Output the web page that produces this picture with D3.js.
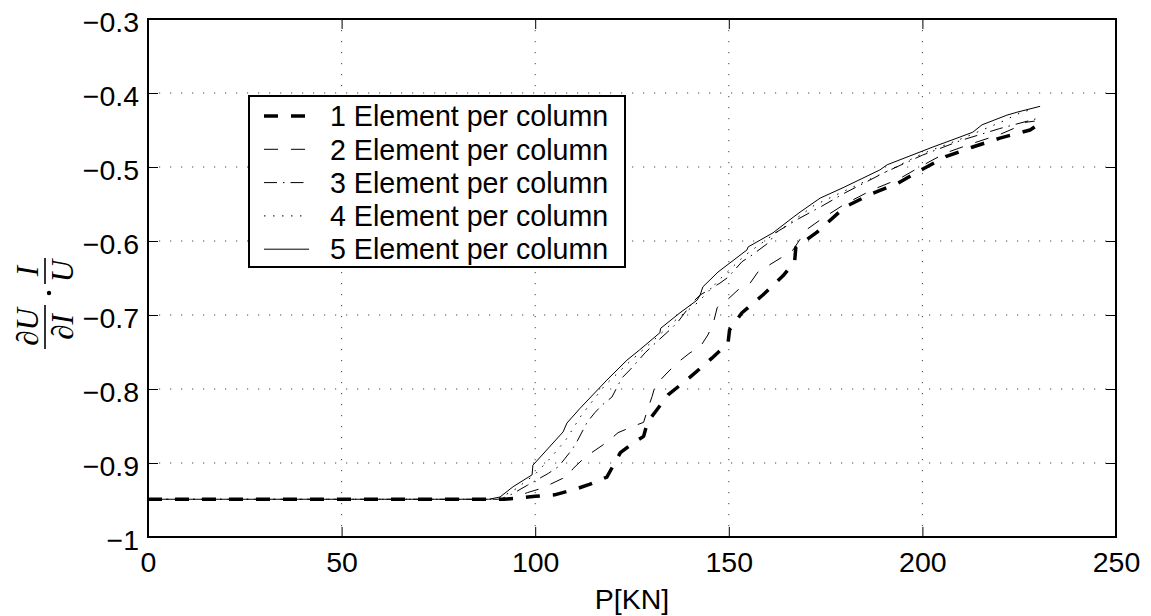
<!DOCTYPE html>
<html>
<head>
<meta charset="utf-8">
<script src="https://cdn.jsdelivr.net/npm/d3@7"></script>
<style>
  html, body { margin: 0; padding: 0; background: #fff; }
  svg { display: block; }
  text { font-family: "Liberation Sans", Arial, Helvetica, sans-serif; fill: #000; }
  .math { font-family: "Liberation Serif", "DejaVu Serif", serif; font-style: italic; }
</style>
</head>
<body>
<svg id="chart" width="1151" height="616"></svg>
<script>
// Axis ticks
const xTicks = [0, 50, 100, 150, 200, 250];
const yTicks = [-1, -0.9, -0.8, -0.7, -0.6, -0.5, -0.4, -0.3];

// Series: [P in kN, dU/dI * I/U]
const series1 = [[0,-0.949],[92,-0.949],[96,-0.947],[100,-0.945],[105,-0.943],[110,-0.936],[114,-0.929],[118.5,-0.919],[120,-0.905],[122,-0.886],[125.3,-0.873],[128,-0.864],[129,-0.845],[131,-0.831],[134.3,-0.808],[140,-0.784],[145.7,-0.758],[149.8,-0.738],[150.2,-0.720],[153.4,-0.697],[158.8,-0.673],[164,-0.647],[167,-0.628],[167.3,-0.609],[172.8,-0.588],[180,-0.554],[187,-0.536],[193.7,-0.522],[200,-0.503],[206,-0.486],[213,-0.473],[220,-0.461],[227.8,-0.450],[229,-0.446]];
const series2 = [[0,-0.949],[92,-0.949],[95,-0.946],[98,-0.940],[101.8,-0.934],[104.6,-0.927],[107,-0.921],[108.5,-0.919],[109.7,-0.908],[112.9,-0.892],[118.5,-0.872],[121.4,-0.859],[125,-0.851],[128,-0.845],[129,-0.828],[130.2,-0.810],[131,-0.795],[134.3,-0.777],[136.6,-0.765],[140,-0.751],[142.6,-0.743],[144.6,-0.727],[146,-0.711],[147,-0.690],[149.5,-0.680],[152.4,-0.666],[155.5,-0.657],[157.5,-0.642],[160.6,-0.632],[163.7,-0.622],[166.6,-0.612],[170,-0.585],[174,-0.570],[180,-0.550],[187,-0.531],[194,-0.516],[200,-0.498],[206,-0.481],[213,-0.468],[220,-0.456],[224,-0.447],[226,-0.440],[229,-0.438]];
const series3 = [[0,-0.949],[91,-0.949],[94,-0.942],[98,-0.930],[103.4,-0.914],[106,-0.905],[109.5,-0.882],[111,-0.869],[113.4,-0.845],[115.4,-0.832],[117.2,-0.822],[119.8,-0.811],[122.4,-0.785],[124.5,-0.774],[128.4,-0.751],[130.4,-0.741],[134.8,-0.720],[136.9,-0.709],[140.8,-0.682],[142.6,-0.673],[147.7,-0.657],[149.8,-0.649],[153.4,-0.628],[156,-0.619],[160.6,-0.601],[162,-0.589],[168,-0.570],[174,-0.553],[180,-0.535],[190,-0.508],[200,-0.484],[210,-0.464],[220,-0.448],[230,-0.434]];
const series4 = [[0,-0.949],[90,-0.949],[92,-0.944],[95,-0.935],[100,-0.915],[104,-0.893],[108,-0.868],[112,-0.835],[118,-0.795],[124,-0.765],[130,-0.737],[136,-0.708],[142,-0.683],[148,-0.650],[154,-0.620],[160,-0.597],[166,-0.575],[172,-0.552],[180,-0.532],[190,-0.508],[200,-0.482],[210,-0.462],[220,-0.440],[226,-0.425],[228,-0.423]];
const series5 = [[0,-0.949],[88,-0.949],[90.9,-0.946],[94.3,-0.932],[99.2,-0.916],[99.4,-0.903],[107.2,-0.858],[108.2,-0.846],[111.6,-0.826],[118.5,-0.788],[123.7,-0.761],[127,-0.747],[132.2,-0.724],[132.4,-0.718],[137.4,-0.697],[141.8,-0.680],[142.6,-0.673],[143.3,-0.662],[147.2,-0.642],[154.7,-0.612],[155,-0.608],[161.4,-0.589],[166.6,-0.568],[168.4,-0.561],[173.6,-0.542],[179.5,-0.528],[189,-0.504],[190.9,-0.497],[202.7,-0.473],[207.9,-0.463],[213,-0.453],[215.4,-0.443],[221.8,-0.430],[224.4,-0.426],[230.4,-0.418]];

const seriesNames = ["1 Element per column", "2 Element per column", "3 Element per column", "4 Element per column", "5 Element per column"];

const seriesData = [series1, series2, series3, series4, series5];
const seriesStyle = [
  { width: 3.5, dash: "14,13" },
  { width: 1,   dash: "14,13" },
  { width: 1,   dash: "13,6,1.5,6" },
  { width: 1,   dash: "1.5,7.5" },
  { width: 1,   dash: null }
];

const svg = d3.select("#chart");
const plot = { left: 148, right: 1116, top: 19, bottom: 537 };

const x = d3.scaleLinear().domain([0, 250]).range([plot.left, plot.right]);
const y = d3.scaleLinear().domain([-1, -0.3]).range([plot.bottom, plot.top]);

const fmt = v => (v < 0 ? "\u2212" : "") + d3.format("")(Math.abs(+v.toFixed(2)));

// Dotted grid
const grid = svg.append("g");
grid.selectAll("line.gx").data(xTicks.filter(t => t > 0 && t < 250)).join("line")
  .attr("x1", d => x(d)).attr("x2", d => x(d))
  .attr("y1", plot.top).attr("y2", plot.bottom)
  .attr("stroke", "#444").attr("stroke-width", 1).attr("stroke-dasharray", "1.2,9.8");
grid.selectAll("line.gy").data(yTicks.filter(t => t > -1 && t < -0.3)).join("line")
  .attr("x1", plot.left).attr("x2", plot.right)
  .attr("y1", d => y(d)).attr("y2", d => y(d))
  .attr("stroke", "#444").attr("stroke-width", 1).attr("stroke-dasharray", "1.2,9.8");

// Axes with inward ticks on all four sides
const tickLen = 10;
const axB = svg.append("g").attr("transform", `translate(0,${plot.bottom})`)
  .call(d3.axisBottom(x).tickValues(xTicks).tickSizeInner(-tickLen).tickSizeOuter(0).tickPadding(15).tickFormat(d3.format("d")));
const axT = svg.append("g").attr("transform", `translate(0,${plot.top})`)
  .call(d3.axisTop(x).tickValues(xTicks).tickSizeInner(-tickLen).tickSizeOuter(0).tickFormat(""));
const axL = svg.append("g").attr("transform", `translate(${plot.left},0)`)
  .call(d3.axisLeft(y).tickValues(yTicks).tickSizeInner(-tickLen).tickSizeOuter(0).tickPadding(9).tickFormat(fmt));
const axR = svg.append("g").attr("transform", `translate(${plot.right},0)`)
  .call(d3.axisRight(y).tickValues(yTicks).tickSizeInner(-tickLen).tickSizeOuter(0).tickFormat(""));
[axB, axT, axL, axR].forEach(a => {
  a.select(".domain").remove();
  a.selectAll(".tick line").attr("stroke", "#000").attr("stroke-width", 1);
  a.selectAll("text").attr("font-size", 28.5).attr("fill", "#000")
    .style("font-family", '"Liberation Sans", Arial, Helvetica, sans-serif');
});
axB.selectAll("text").attr("dy", "0.71em");
axL.selectAll("text").attr("dy", "0.45em");

// Data lines
const line = d3.line().x(d => x(d[0])).y(d => y(d[1]));
seriesData.forEach((data, i) => {
  const st = seriesStyle[i];
  svg.append("path").datum(data)
    .attr("d", line)
    .attr("fill", "none")
    .attr("stroke", "#000")
    .attr("stroke-width", st.width)
    .attr("stroke-dasharray", st.dash)
    .attr("stroke-linejoin", "round");
});

// Plot frame
svg.append("rect")
  .attr("x", plot.left).attr("y", plot.top)
  .attr("width", plot.right - plot.left).attr("height", plot.bottom - plot.top)
  .attr("fill", "none").attr("stroke", "#000").attr("stroke-width", 2);

// Legend
const legend = svg.append("g");
legend.append("rect")
  .attr("x", 249).attr("y", 96).attr("width", 376).attr("height", 171)
  .attr("fill", "#fff").attr("stroke", "#000").attr("stroke-width", 2);
seriesNames.forEach((name, i) => {
  const ry = 116 + i * 33.3;
  const st = seriesStyle[i];
  legend.append("line")
    .attr("x1", 264).attr("x2", 309).attr("y1", ry).attr("y2", ry)
    .attr("stroke", "#000").attr("stroke-width", st.width)
    .attr("stroke-dasharray", st.dash);
  legend.append("text")
    .attr("x", 330).attr("y", ry).attr("dy", "0.36em")
    .attr("font-size", 28.6).text(name);
});

// X axis label
svg.append("text")
  .attr("x", x(125)).attr("y", 609)
  .attr("text-anchor", "middle").attr("font-size", 28.5).text("P[KN]");

// Y axis label: dU/dI * I/U as stacked fractions, rotated
const yl = svg.append("g").attr("transform", "translate(45,302) rotate(-90)");
function fraction(g, cx, num, den, w) {
  g.append("text").attr("class", "math").attr("x", cx).attr("y", -7)
    .attr("text-anchor", "middle").attr("font-size", 31).text(num);
  g.append("line").attr("x1", cx - w / 2).attr("x2", cx + w / 2)
    .attr("y1", 0).attr("y2", 0).attr("stroke", "#000").attr("stroke-width", 1.6);
  g.append("text").attr("class", "math").attr("x", cx).attr("y", 28)
    .attr("text-anchor", "middle").attr("font-size", 31).text(den);
}
fraction(yl, -25, "\u2202U", "\u2202I", 44);
yl.append("circle").attr("cx", 9).attr("cy", 4).attr("r", 2.2).attr("fill", "#000");
fraction(yl, 31, "I", "U", 26);
</script>
</body>
</html>
